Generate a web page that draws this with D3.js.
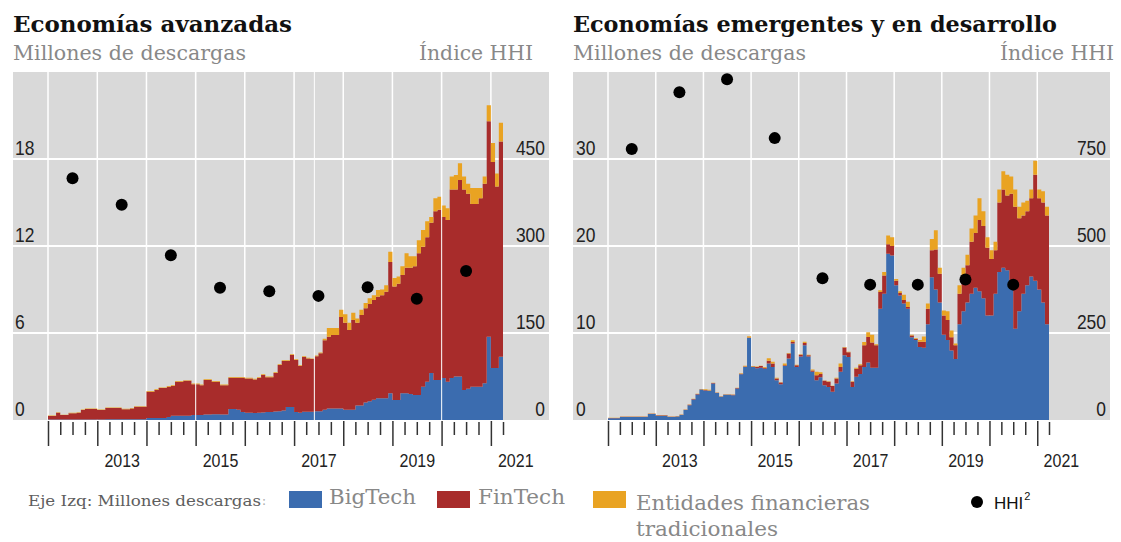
<!DOCTYPE html>
<html><head><meta charset="utf-8">
<script src="https://cdn.jsdelivr.net/npm/d3@7"></script>
<style>body{margin:0;background:#fff}svg{display:block}</style>
</head><body>
<svg id="c" width="1121" height="542"></svg>
<script>
// ---------- DATA ----------
const startDate = new Date(2012, 0, 1);
const endDate = new Date(2021, 3, 1); // data runs monthly Jan 2012 - Mar 2021
const yearLabels = [2013, 2015, 2017, 2019, 2021];
const hhiYears = [2012, 2013, 2014, 2015, 2016, 2017, 2018, 2019, 2020];

// Economías avanzadas (millones de descargas, mensual)
const leftBigTech = [0.03,0.03,0.03,0.03,0.03,0.03,0.03,0.03,0.04,0.04,0.04,0.04,
0.04,0.04,0.05,0.05,0.05,0.05,0.05,0.05,0.05,0.05,0.05,0.05,
0.14,0.14,0.14,0.14,0.14,0.2,0.3,0.3,0.3,0.3,0.3,0.35,
0.35,0.35,0.38,0.38,0.4,0.4,0.38,0.38,0.76,0.76,0.7,0.55,
0.5,0.5,0.48,0.5,0.52,0.55,0.55,0.58,0.6,0.65,0.9,0.9,
0.55,0.5,0.57,0.57,0.57,0.6,0.6,0.7,0.8,0.8,0.8,0.8,
0.7,0.7,0.7,1.0,1.0,1.2,1.3,1.4,1.5,1.5,1.5,1.85,
1.38,1.38,1.85,1.85,1.8,1.72,1.72,2.3,2.64,3.24,2.76,2.76,
2.9,2.64,2.9,3.0,3.0,2.07,2.15,2.3,2.3,2.3,2.53,5.75,
3.58,3.58,4.37];
const leftFinTech = [0.25,0.25,0.47,0.31,0.31,0.44,0.44,0.47,0.65,0.72,0.72,0.72,
0.65,0.65,0.78,0.78,0.78,0.78,0.69,0.69,0.75,0.87,0.87,0.87,
1.81,1.81,1.93,2.06,2.06,2.1,2.04,2.34,2.34,2.4,2.4,2.11,
2.11,2.05,2.38,2.38,2.24,2.24,2.02,2.02,2.16,2.16,2.22,2.37,
2.37,2.37,2.32,2.4,2.58,2.4,2.4,2.66,3.2,3.42,3.17,3.58,
3.59,3.22,3.78,3.68,3.63,3.8,4.0,4.8,4.94,5.06,5.06,6.3,
6.0,5.5,6.2,5.7,6.24,6.5,6.7,6.88,7.0,7.1,7.35,9.05,
7.82,8.02,8.15,8.65,8.7,8.88,9.78,9.65,9.96,10.36,11.64,11.74,
11.1,11.16,13.0,12.9,13.55,13.83,13.45,12.6,12.6,13.0,13.77,14.85,
14.22,12.52,14.83];
const leftTrad = [0.03,0.03,0.03,0.03,0.03,0.03,0.03,0.03,0.03,0.03,0.03,0.03,
0.03,0.03,0.03,0.03,0.03,0.03,0.03,0.03,0.03,0.03,0.03,0.03,
0.05,0.05,0.05,0.05,0.05,0.05,0.05,0.05,0.05,0.05,0.05,0.05,
0.05,0.05,0.05,0.05,0.05,0.05,0.05,0.05,0.05,0.05,0.05,0.05,
0.05,0.05,0.05,0.05,0.05,0.05,0.05,0.05,0.05,0.05,0.05,0.05,
0.05,0.05,0.05,0.05,0.05,0.05,0.05,0.1,0.6,0.48,0.48,0.5,
0.6,0.5,0.5,0.3,0.36,0.37,0.4,0.32,0.47,0.4,0.45,0.7,
0.6,0.5,0.6,1.0,0.8,0.7,0.9,1.15,1.1,0.4,0.9,0.9,
0.8,0.8,0.9,1.0,1.15,0.9,0.7,1.1,1.1,0.7,0.5,1.1,
1.3,0.9,1.3];
const leftHHI = [417, 371, 284, 228, 222, 214, 229, 209, 257];

// Economías emergentes y en desarrollo
const rightBigTech = [0.19,0.19,0.19,0.34,0.34,0.34,0.34,0.34,0.34,0.34,0.69,0.69,
0.5,0.5,0.5,0.34,0.34,0.4,0.57,1.15,1.7,2.37,2.94,3.5,
3.4,3.35,4.2,3.1,2.67,2.9,2.9,2.85,3.63,5.27,6.1,9.43,
6.1,5.95,6.0,5.9,6.5,6.1,4.58,4.12,6.2,7.06,8.78,6.1,
7.3,8.6,7.3,5.54,4.58,4.9,4.0,3.8,3.25,4.2,5.54,7.44,
7.25,3.8,4.96,5.3,6.1,6.6,6.0,6.0,12.8,14.5,19.1,18.9,
15.5,14.3,13.4,12.8,9.5,9.2,8.4,8.3,11.0,16.4,15.0,13.5,
9.8,9.2,8.0,7.0,11.0,12.5,13.5,14.5,15.2,14.8,14.0,12.0,
12.0,14.5,17.0,17.5,17.2,15.5,10.5,12.5,14.5,15.5,16.5,16.0,
15.0,13.5,11.0];
const rightFinTech = [0.04,0.04,0.04,0.04,0.04,0.04,0.04,0.04,0.04,0.04,0.04,0.04,
0.04,0.04,0.04,0.04,0.04,0.04,0.04,0.04,0.04,0.04,0.04,0.04,
0.04,0.04,0.04,0.04,0.04,0.04,0.04,0.04,0.04,0.04,0.04,0.04,
0.05,0.15,0.2,0.1,0.3,0.4,0.19,0.18,0.1,0.57,0.19,0.2,
0.2,0.25,0.15,0.16,0.57,0.4,0.5,0.6,0.65,0.57,0.56,0.88,
0.55,0.59,0.94,1.0,2.48,2.94,2.9,2.6,1.9,2.1,1.1,1.1,
0.5,0.3,0.4,0.2,0.2,0.1,0.6,0.7,1.8,3.1,4.6,3.3,
2.2,2.3,1.5,1.6,3.5,4.0,4.3,6.0,6.3,8.2,8.3,7.8,
6.5,5.0,8.0,9.0,8.6,10.5,14.0,10.7,9.0,8.5,9.0,12.2,
10.5,11.5,12.5];
const rightTrad = [0.03,0.03,0.03,0.03,0.03,0.03,0.03,0.03,0.03,0.03,0.03,0.03,
0.03,0.03,0.03,0.03,0.03,0.03,0.03,0.03,0.03,0.03,0.03,0.03,
0.1,0.1,0.05,0.03,0.03,0.03,0.03,0.03,0.05,0.05,0.1,0.15,
0.05,0.05,0.05,0.1,0.3,0.2,0.08,0.05,0.2,0.07,0.19,0.05,
0.05,0.15,0.05,0.1,0.39,0.2,0.05,0.05,0.05,0.08,0.4,0.08,
0.05,0.06,0.1,0.1,0.38,0.56,0.9,0.1,0.2,0.4,1.0,1.0,
0.2,0.2,0.6,0.6,0.1,0.1,0.2,0.6,0.6,1.3,2.2,0.7,
0.6,1.0,0.8,0.2,1.0,1.0,1.2,1.5,2.0,2.5,1.7,1.2,
1.0,1.0,1.5,2.1,2.4,2.0,2.0,1.3,1.5,1.2,1.0,1.6,
1.0,1.3,1.0];
const rightHHI = [779, 942, 979, 810, 407, 389, 389, 404, 389];

const leftTicksL = [0, 6, 12, 18], leftTicksR = [0, 150, 300, 450];
const rightTicksL = [0, 10, 20, 30], rightTicksR = [0, 250, 500, 750];

const legendItems = [
  {key: "big", label: "BigTech"},
  {key: "fin", label: "FinTech"},
  {key: "trad", label: "Entidades financieras", label2: "tradicionales"}
];

// ---------- STYLE ----------
const COLORS = {big: "#3b6caf", fin: "#a82c2b", trad: "#e9a322"};
const BG = "#d9d9d9";
const NUM = "'Liberation Sans',Arial,sans-serif";
const SERIF = "'DejaVu Serif','Liberation Serif',serif";
const TOP = 72, BOTTOM = 420;

const svg = d3.select("#c");
const months = d3.timeMonths(startDate, endDate);

function styleNum(sel, size, perChar) {
  sel.attr("font-family", NUM).attr("font-size", size).attr("fill", "#222")
    .attr("textLength", function () { return this.textContent.length * perChar; })
    .attr("lengthAdjust", "spacingAndGlyphs");
}

function drawPanel(p) {
  const x = d3.scaleTime().domain([startDate, endDate]).range([p.x0, p.x1]);
  const y = d3.scaleLinear().domain([0, p.yMax]).range([BOTTOM, TOP]);
  const y2 = d3.scaleLinear().domain([0, p.y2Max]).range([BOTTOM, TOP]);
  const g = svg.append("g");

  g.append("rect").attr("x", p.bx0).attr("y", TOP).attr("width", p.bx1 - p.bx0)
    .attr("height", BOTTOM - TOP).attr("fill", BG);

  g.selectAll(null).data(p.ticksL.filter(d => d > 0)).join("line")
    .attr("x1", p.bx0).attr("x2", p.bx1).attr("y1", d => y(d)).attr("y2", d => y(d))
    .attr("stroke", "#fff").attr("stroke-width", 2);

  const yearStarts = d3.timeYears(startDate, new Date(2021, 0, 2));
  g.selectAll(null).data(yearStarts).join("line")
    .attr("x1", d => x(d)).attr("x2", d => x(d)).attr("y1", TOP).attr("y2", BOTTOM)
    .attr("stroke", "#fff").attr("stroke-width", 1.5);

  const rows = months.map((d, i) => ({date: d, big: p.big[i], fin: p.fin[i], trad: p.trad[i]}));
  rows.push(Object.assign({}, rows[rows.length - 1], {date: endDate}));
  const series = d3.stack().keys(["big", "fin", "trad"])(rows);
  const area = d3.area().curve(d3.curveStepAfter)
    .x(d => x(d.data.date)).y0(d => y(d[0])).y1(d => y(d[1]));
  g.selectAll(null).data(series).join("path")
    .attr("fill", d => COLORS[d.key]).attr("d", area);

  // white seams over data
  g.selectAll(null).data(p.seams).join("line")
    .attr("x1", d => x(d)).attr("x2", d => x(d)).attr("y1", TOP).attr("y2", BOTTOM)
    .attr("stroke", "#fff").attr("stroke-width", 1.2).attr("opacity", 0.85);

  // HHI dots
  g.selectAll(null).data(p.hhi).join("circle")
    .attr("cx", (d, i) => x(new Date(hhiYears[i], 6, 1))).attr("cy", d => y2(d))
    .attr("r", 6).attr("fill", "#000");

  // left axis labels
  const aL = g.append("g").attr("transform", `translate(${p.labL},0)`)
    .call(d3.axisRight(y).tickValues(p.ticksL).tickSize(0).tickPadding(0));
  aL.select(".domain").remove();
  aL.selectAll("text").attr("x", 0).attr("dy", null).attr("y", -5).call(styleNum, 21, 9.7);

  const aR = g.append("g").attr("transform", `translate(${p.labR},0)`)
    .call(d3.axisLeft(y2).tickValues(p.ticksR).tickSize(0).tickPadding(0));
  aR.select(".domain").remove();
  aR.selectAll("text").attr("x", 0).attr("dy", null).attr("y", -5).call(styleNum, 21, 9.7);

  // bottom ticks
  const quarters = d3.timeMonths(new Date(2012, 3, 1), new Date(2021, 3, 2), 3).filter(d => d.getMonth() !== 0);
  const bl = g.append("g").attr("transform", `translate(0,${BOTTOM + 1})`)
    .call(d3.axisBottom(x).tickValues(yearStarts).tickSize(25).tickFormat(""));
  const bs = g.append("g").attr("transform", `translate(0,${BOTTOM + 2})`)
    .call(d3.axisBottom(x).tickValues(quarters).tickSize(13).tickFormat(""));
  [bl, bs].forEach(a => {
    a.select(".domain").remove();
    a.selectAll("line").attr("stroke", "#333").attr("stroke-width", 1.5);
  });
  const bt = g.append("g").attr("transform", `translate(0,${BOTTOM})`)
    .call(d3.axisBottom(x).tickValues(yearLabels.map(yr => new Date(yr, 6, 1)))
      .tickSize(0).tickFormat(d3.timeFormat("%Y")));
  bt.select(".domain").remove();
  bt.selectAll("text").attr("dy", null).attr("y", 47).call(styleNum, 19, 8.9);

  // titles
  svg.append("text").attr("x", p.bx0).attr("y", 32).text(p.title)
    .attr("font-family", SERIF).attr("font-weight", "bold").attr("font-size", 23)
    .attr("fill", "#111").attr("textLength", p.titleW).attr("lengthAdjust", "spacingAndGlyphs");
  svg.append("text").attr("x", p.bx0).attr("y", 60).text("Millones de descargas")
    .attr("font-family", SERIF).attr("font-size", 20).attr("fill", "#888")
    .attr("textLength", 233).attr("lengthAdjust", "spacingAndGlyphs");
  svg.append("text").attr("x", p.hhiX).attr("y", 60).text("Índice HHI")
    .attr("font-family", SERIF).attr("font-size", 20).attr("fill", "#888")
    .attr("textLength", 114).attr("lengthAdjust", "spacingAndGlyphs");
}

drawPanel({
  bx0: 13, bx1: 549, x0: 48, x1: 503, yMax: 24, y2Max: 600,
  ticksL: leftTicksL, ticksR: leftTicksR, labL: 15, labR: 545,
  big: leftBigTech, fin: leftFinTech, trad: leftTrad, hhi: leftHHI,
  seams: [new Date(2015, 0, 1), new Date(2017, 5, 1), new Date(2020, 0, 1)],
  title: "Economías avanzadas", titleW: 279, hhiX: 419
});
drawPanel({
  bx0: 573, bx1: 1110, x0: 608, x1: 1049, yMax: 40, y2Max: 1000,
  ticksL: rightTicksL, ticksR: rightTicksR, labL: 576, labR: 1106,
  big: rightBigTech, fin: rightFinTech, trad: rightTrad, hhi: rightHHI,
  seams: [],
  title: "Economías emergentes y en desarrollo", titleW: 484, hhiX: 1000
});

// ---------- LEGEND ----------
const lg = svg.append("g");
lg.append("text").attr("x", 28).attr("y", 506).text("Eje Izq: Millones descargas")
  .attr("font-family", SERIF).attr("font-size", 15).attr("fill", "#5e5e5e")
  .attr("textLength", 233).attr("lengthAdjust", "spacingAndGlyphs");
lg.append("text").attr("x", 262).attr("y", 505).text(":")
  .attr("font-family", SERIF).attr("font-size", 12).attr("fill", "#aaa");
const swX = [289, 437, 593], txX = [329, 478, 636], txW = [87, 87, 234];
legendItems.forEach((it, i) => {
  lg.append("rect").attr("x", swX[i]).attr("y", 491).attr("width", 33).attr("height", 17)
    .attr("fill", COLORS[it.key]);
  lg.append("text").attr("x", txX[i]).attr("y", i === 2 ? 510 : 504).text(it.label)
    .attr("font-family", SERIF).attr("font-size", 20).attr("fill", "#888")
    .attr("textLength", txW[i]).attr("lengthAdjust", "spacingAndGlyphs");
  if (it.label2) {
    lg.append("text").attr("x", txX[i]).attr("y", 536).text(it.label2)
      .attr("font-family", SERIF).attr("font-size", 20).attr("fill", "#888")
      .attr("textLength", 142).attr("lengthAdjust", "spacingAndGlyphs");
  }
});
lg.append("circle").attr("cx", 977).attr("cy", 502).attr("r", 6).attr("fill", "#000");
const hhiT = lg.append("text").attr("x", 994).attr("y", 509)
  .attr("font-family", "'Liberation Sans',Arial,sans-serif").attr("font-size", 17).attr("fill", "#111");
hhiT.append("tspan").text("HHI");
hhiT.append("tspan").text("2").attr("font-size", 11).attr("dy", -9).attr("dx", 1);
</script>
</body></html>
